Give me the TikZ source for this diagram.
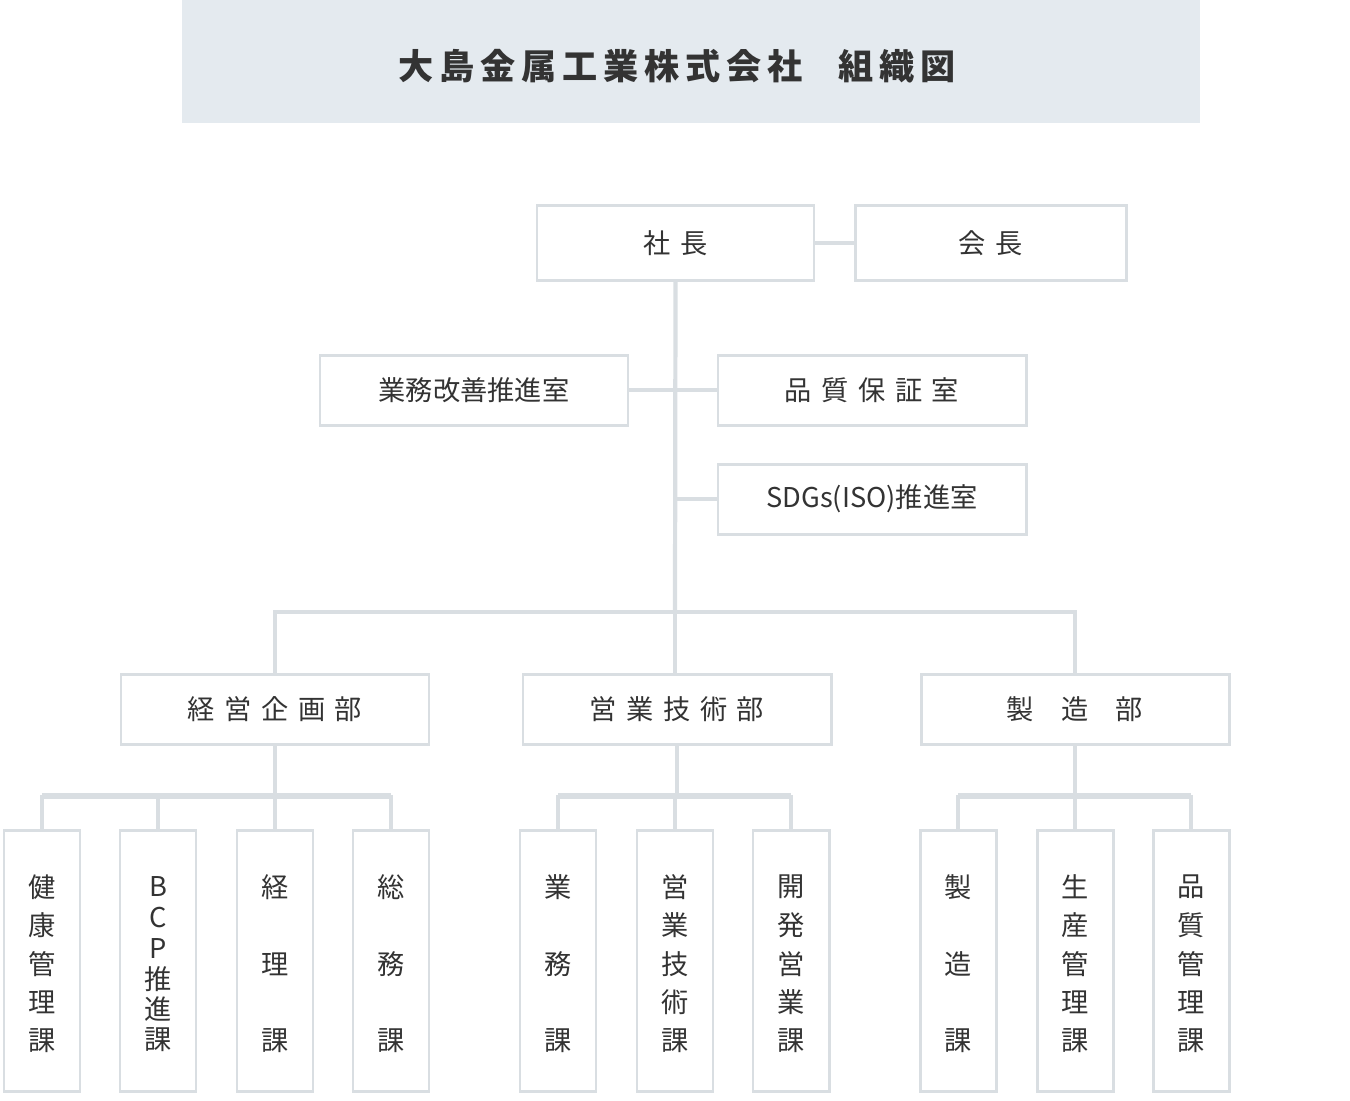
\documentclass[tikz,border=0pt]{standalone}
\usepackage{fontspec}
\setmainfont{Noto Sans CJK JP}
\usetikzlibrary{positioning,calc}
\definecolor{barfill}{HTML}{E4EAEF}
\definecolor{lineclr}{HTML}{D9DEE2}
\definecolor{txt}{HTML}{333333}
\tikzset{
  box/.style 2 args={draw=lineclr, line width=1.7pt, fill=white, text=txt,
    minimum width=#1*0.02cm, minimum height=#2*0.02cm, inner sep=0pt,
    font=\fontsize{15.5}{18}\selectfont},
  link/.style={draw=lineclr, line width=2.4pt},
  vtext/.style={text=txt, font=\fontsize{15.5}{18}\selectfont, inner sep=0pt}
}
\newcommand{\spc}{\hspace{0.35em}}
\begin{document}
\begin{tikzpicture}[x=0.02cm,y=-0.02cm]
  \useasboundingbox (0,0) rectangle (1350,1100);
  % title bar
  \fill[barfill] (182,0) rectangle (1200,123);
  \node (title) [text=txt, font=\fontsize{20}{24}\selectfont\bfseries] at (677,66)
    {大\,島\,金\,属\,工\,業\,株\,式\,会\,社\quad 組\,織\,図};

  % top
  \node (pres) [box={277}{75}] at (675.5,243) {社\spc 長};
  \node (chair) [box={271}{75}] at (990.5,243) {会\spc 長};
  \node (kaizen) [box={308}{70}] at (474,390) {業務改善推進室};
  \node (qa) [box={308}{70}] at (872,390) {品\spc 質\spc 保\spc 証\spc 室};
  \node (sdgs) [box={308}{70}] at (872,499) {SDGs(ISO)推進室};
  \coordinate (trunkA) at (675,390);
  \coordinate (trunkB) at (675,499);
  \coordinate (split) at (675,612);

  % departments
  \node (keiei) [box={308}{70}] at (275,709) {経\spc 営\spc 企\spc 画\spc 部};
  \node (eigyo) [box={308}{70}] at (677,709) {営\spc 業\spc 技\spc 術\spc 部};
  \node (seizo) [box={308}{70}] at (1075,709) {製\quad 造\quad 部};

  \begin{scope}[on background layer/.try]
  \end{scope}
  \draw[link] (pres) -- (chair);
  \draw[link] (pres.south) -- (split);
  \draw[link] (kaizen) -- (trunkA) -- (qa);
  \draw[link] (trunkB) -- (sdgs);
  \draw[link] (keiei.north) |- (split) -| (seizo.north);
  \draw[link] (split) -- (675,674);

  % sections
  \foreach \nm/\x/\dept/\lbl in {
      kenko/42/keiei/{健,康,管,理,課},
      bcp/158/keiei/{B,C,P,推,進,課},
      keiri/275/keiei/{経,,理,,課},
      somu/391/keiei/{総,,務,,課},
      gyomu/558/eigyo/{業,,務,,課},
      eigi/675/eigyo/{営,業,技,術,課},
      kaihatsu/791/eigyo/{開,発,営,業,課},
      seizou/958/seizo/{製,,造,,課},
      seisan/1075/seizo/{生,産,管,理,課},
      hinshitsu/1191/seizo/{品,質,管,理,課}}{
    \node (\nm) [box={76}{261}] at (\x,960.5) {};
    \draw[link] (\nm.north) -- (\x,797) -| (\dept.south);
    \draw[link] (\nm.north) -- (\x,797);
  }
  % horizontal section bars
  \draw[link] (kenko.north) ++(0,-33) -- ($(somu.north)+(0,-33)$);
  \draw[link] (gyomu.north) ++(0,-33) -- ($(kaihatsu.north)+(0,-33)$);
  \draw[link] (seizou.north) ++(0,-33) -- ($(hinshitsu.north)+(0,-33)$);

  % vertical labels
  \foreach \x/\chars in {42/{健,康,管,理,課},275/{経,,理,,課},391/{総,,務,,課},
      558/{業,,務,,課},675/{営,業,技,術,課},791/{開,発,営,業,課},
      958/{製,,造,,課},1075/{生,産,管,理,課},1191/{品,質,管,理,課}}{
    \foreach \c [count=\i from 0] in \chars {
      \node (ch) [vtext] at (\x,887+\i*38.5) {\c};
    }
  }
  \foreach \c [count=\i from 0] in {B,C,P,推,進,課} {
    \node (bch) [vtext] at (158,887+\i*30.6) {\c};
  }
\end{tikzpicture}
\end{document}
